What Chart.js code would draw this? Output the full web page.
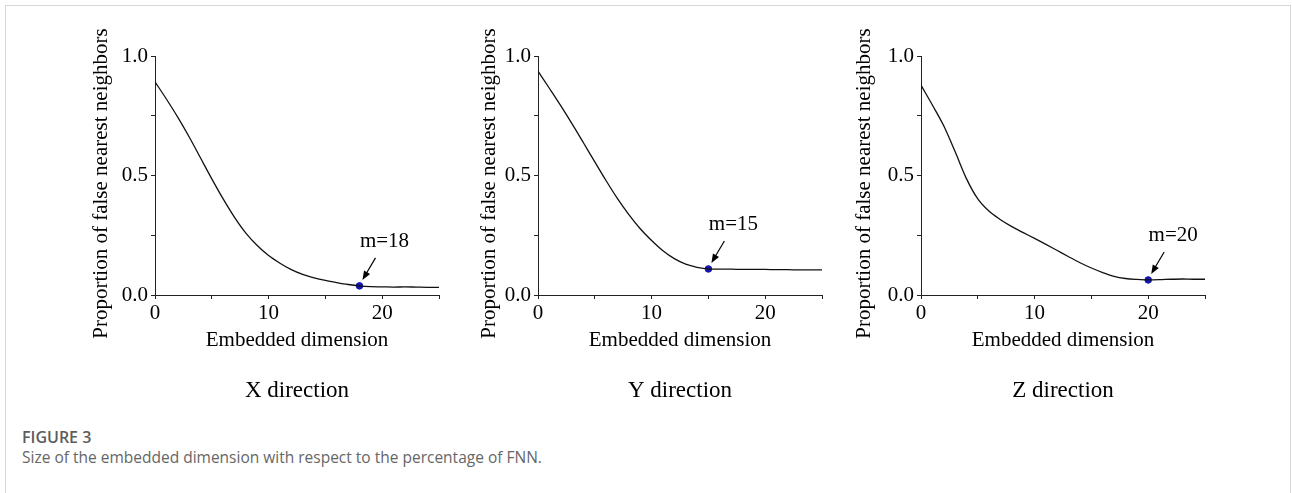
<!DOCTYPE html>
<html>
<head>
<meta charset="utf-8">
<script src="https://cdn.jsdelivr.net/npm/chart.js@4.4.1/dist/chart.umd.min.js"></script>
<style>
  html, body { margin: 0; padding: 0; background: #fff; }
  body { width: 1292px; height: 493px; position: relative; overflow: hidden; }
  .frame { position: absolute; left: 5px; top: 5px; width: 1284px; height: 600px; border: 1px solid #d6d6d6; }
  .panel { position: absolute; top: 20px; width: 394px; height: 400px; }
  .fig-no { position: absolute; left: 22px; top: 429px; font: 600 16px/16px "Open Sans", sans-serif; color: #5c5c5c; }
  .fig-cap { position: absolute; left: 22px; top: 449px; font: 400 15.5px/16px "Open Sans", sans-serif; color: #666; }
</style>
</head>
<body>
<div class="frame"></div>
<div class="panel" id="p0"><canvas id="c0"></canvas></div>
<div class="panel" id="p1"><canvas id="c1"></canvas></div>
<div class="panel" id="p2"><canvas id="c2"></canvas></div>
<div class="fig-no">FIGURE 3</div>
<div class="fig-cap">Size of the embedded dimension with respect to the percentage of FNN.</div>

<script>
// dati
const dims = [0, 1, 2, 3, 4, 5, 6, 7, 8, 9, 10, 11, 12, 13, 14, 15, 16, 17, 18, 19, 20, 21, 22, 23, 24, 25];
const fnnX = [0.892, 0.820, 0.744, 0.662, 0.574, 0.486, 0.402, 0.325, 0.259, 0.207, 0.165, 0.133, 0.106, 0.086, 0.072, 0.061, 0.052, 0.044, 0.038, 0.035, 0.034, 0.033, 0.034, 0.033, 0.032, 0.032];
const fnnY = [0.937, 0.865, 0.792, 0.716, 0.637, 0.557, 0.478, 0.403, 0.336, 0.277, 0.228, 0.185, 0.152, 0.129, 0.116, 0.109, 0.108, 0.108, 0.107, 0.107, 0.107, 0.106, 0.106, 0.105, 0.105, 0.105];
const fnnZ = [0.878, 0.795, 0.708, 0.600, 0.487, 0.402, 0.350, 0.315, 0.286, 0.261, 0.237, 0.212, 0.186, 0.160, 0.135, 0.113, 0.094, 0.078, 0.069, 0.065, 0.063, 0.064, 0.066, 0.067, 0.066, 0.066];
const panelNames = ["X direction", "Y direction", "Z direction"];
const chosenDims = [18, 15, 20];
const xTickLabels = ["0", "10", "20"];
const yTickLabels = ["0.0", "0.5", "1.0"];

const seriesList = [fnnX, fnnY, fnnZ];

// posizioni dei pannelli (solo layout)
const axisLeft = [155, 538, 921];
const yTitleGap = [54, 49, 57];

const serif = "'Liberation Serif', 'Times New Roman', serif";
Chart.defaults.font.family = serif;
Chart.defaults.color = "#000";

// titolo asse y, un po' piu' in basso del centro
const yTitle = {
  id: "yTitle",
  afterDraw(chart, args, opts) {
    const { ctx, chartArea } = chart;
    ctx.save();
    ctx.translate(chartArea.left - opts.gap, (chartArea.top + chartArea.bottom) / 2 + 8);
    ctx.rotate(-Math.PI / 2);
    ctx.font = "21px " + serif;
    ctx.fillStyle = "#000";
    ctx.textAlign = "center";
    ctx.textBaseline = "middle";
    ctx.fillText(opts.text, 0, 0);
    ctx.restore();
  }
};

// freccia + etichetta m=..
const markerNote = {
  id: "markerNote",
  afterDatasetsDraw(chart, args, opts) {
    const { ctx, scales: { x, y } } = chart;
    const px = x.getPixelForValue(opts.xValue);
    const py = y.getPixelForValue(opts.yValue);
    const x0 = px + 16, y0 = py - 28, x1 = px + 3, y1 = py - 6;
    const ang = Math.atan2(y1 - y0, x1 - x0);
    ctx.save();
    ctx.strokeStyle = "#000";
    ctx.lineWidth = 1.2;
    ctx.beginPath();
    ctx.moveTo(x0, y0);
    ctx.lineTo(x1 - 6 * Math.cos(ang), y1 - 6 * Math.sin(ang));
    ctx.stroke();
    ctx.beginPath();
    ctx.moveTo(x1, y1);
    ctx.lineTo(x1 - 9 * Math.cos(ang) + 3.5 * Math.sin(ang), y1 - 9 * Math.sin(ang) - 3.5 * Math.cos(ang));
    ctx.lineTo(x1 - 9 * Math.cos(ang) - 3.5 * Math.sin(ang), y1 - 9 * Math.sin(ang) + 3.5 * Math.cos(ang));
    ctx.closePath();
    ctx.fillStyle = "#000";
    ctx.fill();
    ctx.font = "21px " + serif;
    ctx.textAlign = "center";
    ctx.textBaseline = "middle";
    ctx.fillText(opts.text, px + 25, py - 44);
    ctx.restore();
  }
};

const axisGrid = { drawOnChartArea: false, drawTicks: true, tickLength: 4, color: "#222", lineWidth: 1 };
const axisBorder = { display: true, color: "#222", width: 1 };

seriesList.forEach((series, i) => {
  const panel = document.getElementById("p" + i);
  panel.style.left = (axisLeft[i] - 100) + "px";

  const mark = chosenDims[i];
  const markY = series[dims.indexOf(mark)];

  new Chart(document.getElementById("c" + i), {
    type: "line",
    data: {
      datasets: [
        {
          data: dims.map((d, k) => ({ x: d, y: series[k] })),
          borderColor: "#111",
          borderWidth: 1.3,
          pointRadius: 0,
          cubicInterpolationMode: "monotone",
          fill: false,
        },
        {
          data: [{ x: mark, y: markY }],
          showLine: false,
          pointRadius: 3.3,
          pointBackgroundColor: "#1414b4",
          pointBorderColor: "#1414b4",
        },
      ],
    },
    options: {
      responsive: true,
      maintainAspectRatio: false,
      animation: false,
      events: [],
      layout: { padding: { top: 36, right: 10, bottom: 15.4, left: 0 } },
      scales: {
        x: {
          type: "linear",
          min: 0,
          max: 25,
          afterFit(s) { s.height = 60; },
          ticks: {
            stepSize: 5,
            autoSkip: false,
            maxRotation: 0,
            padding: 2,
            color: "#000",
            font: { size: 21 },
            callback: v => xTickLabels.includes(String(v)) ? String(v) : "",
          },
          grid: axisGrid,
          border: axisBorder,
          title: {
            display: true,
            text: "Embedded dimension",
            color: "#000",
            font: { size: 21 },
            padding: { top: 0, bottom: 2.4 },
          },
        },
        y: {
          min: 0,
          max: 1,
          afterFit(s) { s.width = 100; },
          ticks: {
            stepSize: 0.25,
            autoSkip: false,
            padding: 3,
            color: "#000",
            font: { size: 21 },
            callback: v => (Math.abs(v * 2 - Math.round(v * 2)) < 1e-9 && yTickLabels.includes(v.toFixed(1))) ? v.toFixed(1) : "",
          },
          grid: axisGrid,
          border: axisBorder,
        },
      },
      plugins: {
        legend: { display: false },
        tooltip: { enabled: false },
        title: {
          display: true,
          position: "bottom",
          fullSize: false,
          text: panelNames[i],
          color: "#000",
          font: { size: 23, weight: "normal" },
          padding: { top: 22, bottom: 0 },
        },
        yTitle: { text: "Proportion of false nearest neighbors", gap: yTitleGap[i] },
        markerNote: { xValue: mark, yValue: markY, text: "m=" + mark },
      },
    },
    plugins: [markerNote, yTitle],
  });
});
</script>
</body>
</html>
